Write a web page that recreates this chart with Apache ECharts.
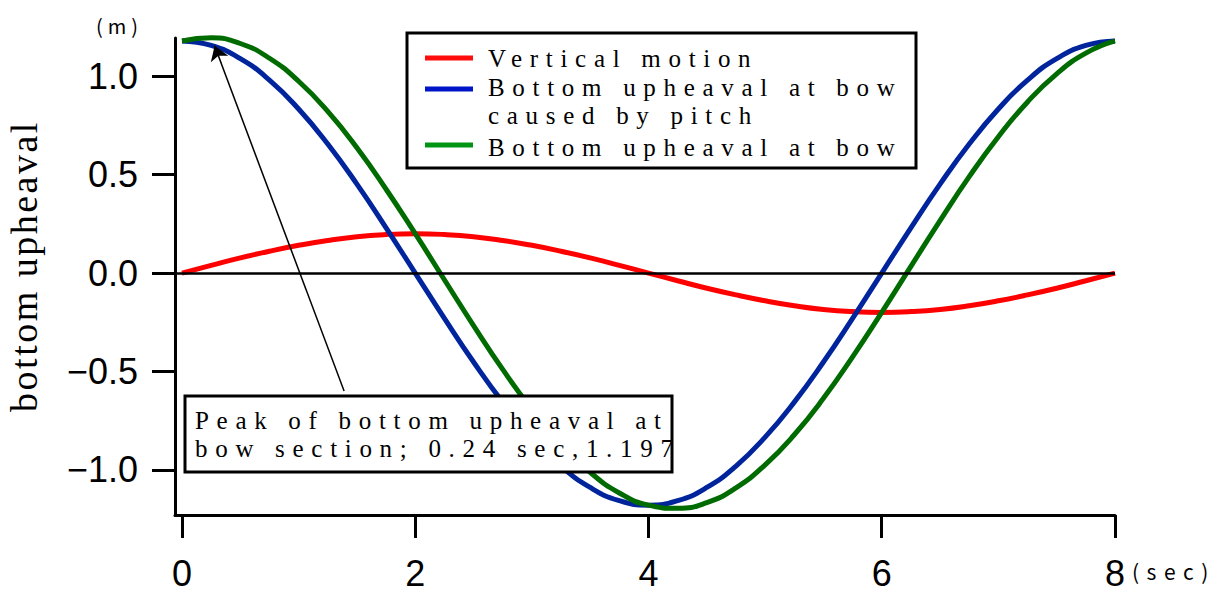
<!DOCTYPE html>
<html>
<head>
<meta charset="utf-8">
<script src="https://cdn.jsdelivr.net/npm/echarts@6/dist/echarts.min.js"></script>
<style>
  html, body { margin: 0; padding: 0; background: #fff; }
  #chart { width: 1225px; height: 592px; }
</style>
</head>
<body>
<div id="chart"></div>
<script>
// time axis (sec), read every 0.25 s off the plot
const times = [0, 0.25, 0.5, 0.75, 1, 1.25, 1.5, 1.75, 2, 2.25, 2.5, 2.75, 3, 3.25, 3.5, 3.75,
  4, 4.25, 4.5, 4.75, 5, 5.25, 5.5, 5.75, 6, 6.25, 6.5, 6.75, 7, 7.25, 7.5, 7.75, 8];

// red: vertical motion (m)
const verticalMotion = [0, 0.039, 0.077, 0.111, 0.141, 0.166, 0.185, 0.196, 0.200, 0.196, 0.185, 0.166, 0.141, 0.111, 0.077, 0.039,
  0, -0.039, -0.077, -0.111, -0.141, -0.166, -0.185, -0.196, -0.200, -0.196, -0.185, -0.166, -0.141, -0.111, -0.077, -0.039, 0];

// blue: bottom upheaval at bow caused by pitch (m)
const pitchUpheaval = [1.180, 1.157, 1.090, 0.981, 0.834, 0.656, 0.452, 0.230, 0, -0.230, -0.452, -0.656, -0.834, -0.981, -1.090, -1.157,
  -1.180, -1.157, -1.090, -0.981, -0.834, -0.656, -0.452, -0.230, 0, 0.230, 0.452, 0.656, 0.834, 0.981, 1.090, 1.157, 1.180];

// green: bottom upheaval at bow (m)
const bowUpheaval = [1.180, 1.196, 1.167, 1.092, 0.975, 0.822, 0.637, 0.426, 0.200, -0.034, -0.267, -0.490, -0.693, -0.870, -1.013, -1.118,
  -1.180, -1.196, -1.167, -1.092, -0.975, -0.822, -0.637, -0.426, -0.200, 0.034, 0.267, 0.490, 0.693, 0.870, 1.013, 1.118, 1.180];

const seriesNames = ['Vertical motion', 'Bottom upheaval at bow\ncaused by pitch', 'Bottom upheaval at bow'];
const xTicks = [0, 2, 4, 6, 8];
const yTicks = [-1, -0.5, 0, 0.5, 1];
const yName = 'bottom upheaval';
const noteLines = ['Peak of bottom upheaval at', 'bow section; 0.24 sec,1.197'];
const peakArrow = [[1.39, -0.60], [0.28, 1.155]];

const lineColors = ['#ff0000', '#00249c', '#006b00'];
const legendColors = ['#ff0d0d', '#0014c8', '#009414'];
const serif = "'Liberation Serif', serif";

const chart = echarts.init(document.getElementById('chart'), null, { renderer: 'svg' });

const pairs = vals => times.map((t, i) => [t, vals[i]]);

const legendY = [58, 89, 145];
const legendTextY = [58, 101.5, 147];

const graphic = [
  {
    type: 'rect', z: 100,
    shape: { x: 407, y: 33, width: 509, height: 135 },
    style: { fill: '#fff', stroke: '#000', lineWidth: 3 }
  },
  ...seriesNames.map((name, i) => ({
    type: 'line', z: 101,
    shape: { x1: 425, y1: legendY[i], x2: 473, y2: legendY[i] },
    style: { stroke: legendColors[i], lineWidth: 5 }
  })),
  ...seriesNames.map((name, i) => ({
    type: 'text', z: 101, x: 488, y: legendTextY[i],
    style: { text: name, fontFamily: serif, fontSize: 25, lineHeight: 28,
      fill: '#000', textVerticalAlign: 'middle' }
  })),
  {
    type: 'rect', z: 100,
    shape: { x: 185, y: 396, width: 487, height: 76 },
    style: { fill: '#fff', stroke: '#000', lineWidth: 3 }
  },
  {
    type: 'text', z: 101, x: 195, y: 434,
    style: { text: noteLines.join('\n'), fontFamily: serif, fontSize: 25, lineHeight: 28,
      fill: '#000', textVerticalAlign: 'middle' }
  },
  {
    type: 'text', x: 24, y: 266, rotation: Math.PI / 2,
    style: { text: yName, fontFamily: serif, fontSize: 38, fill: '#000',
      textAlign: 'center', textVerticalAlign: 'middle' }
  },
  {
    type: 'text', x: 96, y: 25,
    style: { text: '(m)', fontFamily: 'Noto Sans CJK JP', fontSize: 20, fill: '#000', textVerticalAlign: 'middle' }
  },
  {
    type: 'text', x: 1132, y: 571,
    style: { text: '(sec)', fontFamily: 'Noto Sans CJK JP', fontSize: 21, fill: '#000', textVerticalAlign: 'middle' }
  }
];

const option = {
  animation: false,
  backgroundColor: '#fff',
  grid: { left: 175, right: 110, top: 38, bottom: 77, outerBoundsMode: 'none' },
  xAxis: {
    type: 'value', min: -0.06, max: 8,
    splitLine: { show: false },
    axisLine: { onZero: false, lineStyle: { color: '#000', width: 3 } },
    axisTick: { length: 23, customValues: xTicks, lineStyle: { color: '#000', width: 3 } },
    axisLabel: {
      customValues: xTicks, margin: 40, color: '#000',
      fontFamily: 'Liberation Sans', fontSize: 36,
      formatter: v => String(v)
    }
  },
  yAxis: {
    type: 'value', min: -1.23, max: 1.195,
    splitLine: { show: false },
    axisLine: { onZero: false, lineStyle: { color: '#000', width: 3 } },
    axisTick: { length: 23, customValues: yTicks, lineStyle: { color: '#000', width: 3 } },
    axisLabel: {
      customValues: yTicks, margin: 37, color: '#000',
      fontFamily: 'Liberation Sans', fontSize: 36,
      formatter: v => (v < 0 ? '\u2212' : '') + Math.abs(v).toFixed(1)
    }
  },
  series: [
    {
      name: seriesNames[0], type: 'line', data: pairs(verticalMotion),
      showSymbol: false, smooth: true, clip: false,
      lineStyle: { color: lineColors[0], width: 5 },
      markLine: {
        silent: true, symbol: 'none', label: { show: false },
        lineStyle: { color: '#000', width: 2.5, type: 'solid' },
        data: [{ yAxis: 0 }]
      }
    },
    {
      name: seriesNames[1], type: 'line', data: pairs(pitchUpheaval),
      showSymbol: false, smooth: true, clip: false,
      lineStyle: { color: lineColors[1], width: 5 }
    },
    {
      name: seriesNames[2], type: 'line', data: pairs(bowUpheaval),
      showSymbol: false, smooth: true, clip: false,
      lineStyle: { color: lineColors[2], width: 5 },
      markLine: {
        silent: true, symbol: ['none', 'arrow'], symbolSize: 14, label: { show: false },
        lineStyle: { color: '#000', width: 1.5, type: 'solid' },
        data: [[{ coord: peakArrow[0] }, { coord: peakArrow[1] }]]
      }
    }
  ],
  graphic: graphic
};

chart.setOption(option);

// the original text is set with wide letter spacing
const spacing = {};
seriesNames.forEach(n => n.split('\n').forEach(l => { spacing[l] = 7.7; }));
noteLines.forEach(l => { spacing[l] = 7.7; });
spacing[yName] = 2.5;
spacing['(m)'] = 5;
spacing['(sec)'] = 7.5;

function applySpacing() {
  document.querySelectorAll('#chart svg text').forEach(t => {
    const s = spacing[t.textContent];
    if (s) t.style.letterSpacing = s + 'px';
  });
}
chart.on('finished', applySpacing);
applySpacing();
</script>
</body>
</html>
